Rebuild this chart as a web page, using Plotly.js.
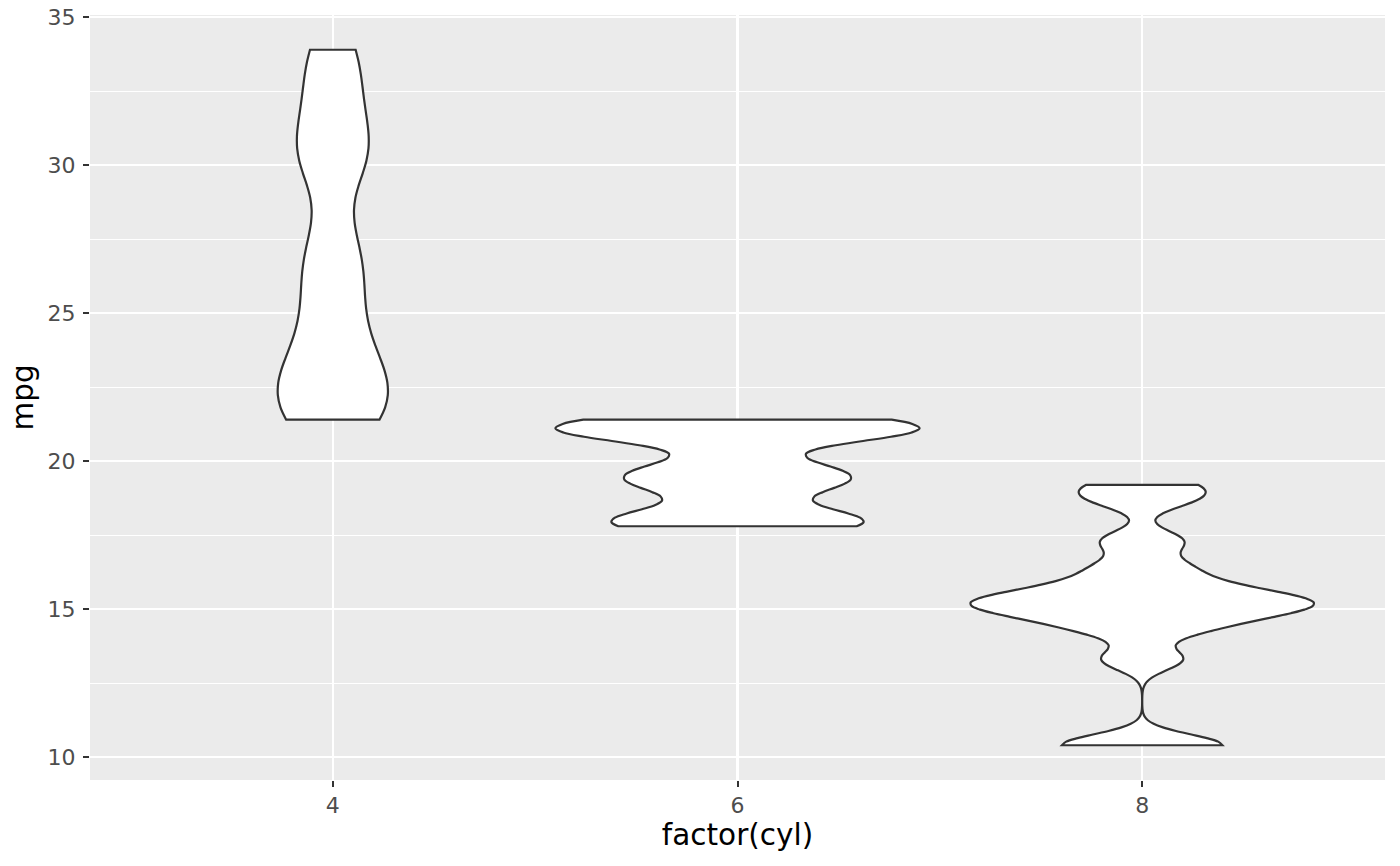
<!DOCTYPE html>
<html>
<head>
<meta charset="utf-8">
<script src="https://cdn.plot.ly/plotly-3.0.1.min.js"></script>
<style>html,body{margin:0;padding:0;background:#fff;}#chart{width:1400px;height:866px;}</style>
</head>
<body>
<div id="chart"></div>
<script>
// mtcars mpg grouped by cylinder count
const categories = ['4', '6', '8'];
const mpg4 = [22.8, 24.4, 22.8, 32.4, 30.4, 33.9, 21.5, 27.3, 26.0, 30.4, 21.4];
const mpg6 = [21.0, 21.0, 21.4, 18.1, 19.2, 17.8, 19.7];
const mpg8 = [18.7, 14.3, 16.4, 17.3, 15.2, 10.4, 10.4, 14.7, 15.5, 15.2, 13.3, 19.2, 15.8, 15.0];
const groups = [mpg4, mpg6, mpg8];
const bwAdjust = 0.5;
const maxViolinWidth = 0.9;

// R's bw.nrd0 (ggplot2 default bandwidth)
function quantile7(sorted, p) {
  const h = (sorted.length - 1) * p;
  const lo = Math.floor(h), hi = Math.ceil(h);
  return sorted[lo] + (h - lo) * (sorted[hi] - sorted[lo]);
}
function nrd0(vals) {
  const n = vals.length;
  const mean = vals.reduce((a, b) => a + b, 0) / n;
  const sd = Math.sqrt(vals.reduce((a, b) => a + (b - mean) * (b - mean), 0) / (n - 1));
  const s = vals.slice().sort((a, b) => a - b);
  const iqr = quantile7(s, 0.75) - quantile7(s, 0.25);
  let lo = Math.min(sd, iqr / 1.34);
  if (!(lo > 0)) lo = sd || Math.abs(s[0]) || 1;
  return 0.9 * lo * Math.pow(n, -0.2);
}
// peak of the gaussian density (for ggplot's scale = "area" widths)
function maxDensity(vals, h) {
  const lo = Math.min(...vals), hi = Math.max(...vals);
  const n = vals.length, norm = 1 / (n * h * Math.sqrt(2 * Math.PI));
  let best = 0;
  for (let k = 0; k <= 1000; k++) {
    const y = lo + (hi - lo) * k / 1000;
    let s = 0;
    for (const v of vals) { const z = (y - v) / h; s += Math.exp(-0.5 * z * z); }
    best = Math.max(best, s * norm);
  }
  return best;
}

const bws = groups.map(v => nrd0(v) * bwAdjust);
const peaks = groups.map((v, i) => maxDensity(v, bws[i]));
const globalPeak = Math.max(...peaks);

const traces = groups.map((vals, i) => ({
  type: 'violin',
  x: vals.map(() => categories[i]),
  y: vals,
  name: categories[i],
  scalegroup: 'g' + i,
  scalemode: 'width',
  width: maxViolinWidth * peaks[i] / globalPeak,
  spanmode: 'hard',
  bandwidth: bws[i],
  points: false,
  box: {visible: false},
  meanline: {visible: false},
  fillcolor: '#FFFFFF',
  line: {color: '#333333', width: 2.2},
  hoverinfo: 'skip',
  showlegend: false
}));

const layout = {
  width: 1400,
  height: 866,
  margin: {l: 90, r: 15, t: 15, b: 86},
  paper_bgcolor: '#FFFFFF',
  plot_bgcolor: '#EBEBEB',
  violinmode: 'overlay',
  showlegend: false,
  font: {family: 'DejaVu Sans', color: '#000000'},
  xaxis: {
    type: 'category',
    categoryorder: 'array',
    categoryarray: categories,
    range: [-0.6, 2.6],
    showgrid: true,
    gridcolor: '#FFFFFF',
    gridwidth: 2.2,
    zeroline: false,
    showline: false,
    ticks: 'outside',
    ticklen: 6,
    tickwidth: 2,
    tickcolor: '#333333',
    tickfont: {family: 'DejaVu Sans', size: 22, color: '#4D4D4D'},
    title: {text: 'factor(cyl)', font: {family: 'DejaVu Sans', size: 29.5, color: '#000000'}, standoff: 6}
  },
  yaxis: {
    range: [9.225, 35.075],
    tick0: 0,
    dtick: 5,
    showgrid: true,
    gridcolor: '#FFFFFF',
    gridwidth: 2.2,
    zeroline: false,
    showline: false,
    ticks: 'outside',
    ticklen: 6,
    tickwidth: 2,
    tickcolor: '#333333',
    ticklabelstandoff: 3,
    tickfont: {family: 'DejaVu Sans', size: 22, color: '#4D4D4D'},
    minor: {dtick: 2.5, tick0: 0, showgrid: true, gridcolor: '#FFFFFF', gridwidth: 1.1, ticks: ''},
    title: {text: 'mpg', font: {family: 'DejaVu Sans', size: 29.5, color: '#000000'}, standoff: 5}
  }
};

Plotly.newPlot('chart', traces, layout, {displayModeBar: false, staticPlot: true});
</script>
</body>
</html>
